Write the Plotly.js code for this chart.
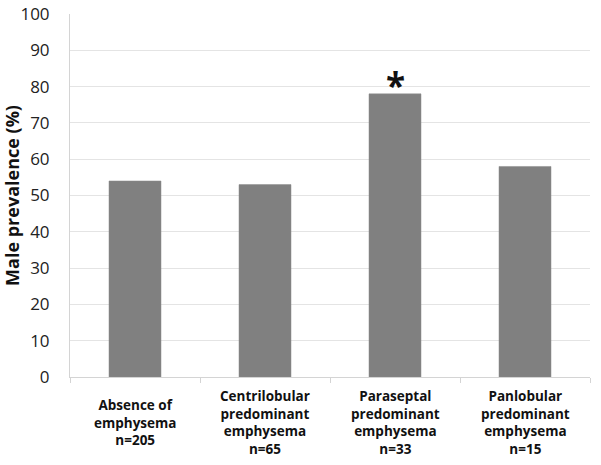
<!DOCTYPE html>
<html>
<head>
<meta charset="utf-8">
<script src="https://cdn.plot.ly/plotly-3.0.1.min.js"></script>
<style>html,body{margin:0;padding:0;background:#fff;}#chart{width:601px;height:465px;}</style>
</head>
<body>
<div id="chart"></div>
<script>
var categories = [
  "Absence of<br>emphysema<br>n=205",
  "Centrilobular<br>predominant<br>emphysema<br>n=65",
  "Paraseptal<br>predominant<br>emphysema<br>n=33",
  "Panlobular<br>predominant<br>emphysema<br>n=15"
];
var malePrevalence = [54, 53, 78, 58];
var significant = [false, false, true, false];

var annotations = [];
for (var i = 0; i < categories.length; i++) {
  annotations.push({
    x: categories[i], y: -0.124, xref: "x", yref: "paper",
    text: "<b>" + categories[i] + "</b>", showarrow: false,
    xanchor: "center", yanchor: "middle", align: "center",
    font: {family: "Open Sans, sans-serif", size: 13.5, color: "#111"}
  });
  if (significant[i]) {
    annotations.push({
      x: categories[i], y: malePrevalence[i], xref: "x", yref: "y",
      text: "<b>*</b>", showarrow: false, yanchor: "bottom",
      yshift: -16,
      font: {family: "Open Sans, sans-serif", size: 35, color: "#111"}
    });
  }
}

var trace = {
  type: "bar",
  x: categories,
  y: malePrevalence,
  marker: {color: "#808080", line: {color: "#8a8a8a", width: 0.5}},
  hoverinfo: "skip"
};

var layout = {
  width: 601, height: 465,
  margin: {l: 70, r: 11, t: 14, b: 88},
  paper_bgcolor: "#fff", plot_bgcolor: "#fff",
  showlegend: false,
  bargap: 0.6,
  font: {family: "Open Sans, sans-serif", color: "#222"},
  xaxis: {
    type: "category",
    showline: true, linecolor: "#d4d4d4", linewidth: 1,
    ticks: "outside", tickson: "boundaries", ticklen: 5, tickcolor: "#d4d4d4",
    showgrid: false, zeroline: false,
    showticklabels: false,
    automargin: false
  },
  yaxis: {
    range: [0, 100], dtick: 10, tick0: 0,
    showline: true, linecolor: "#d4d4d4", linewidth: 1,
    showgrid: true, gridcolor: "#e4e4e4", gridwidth: 1,
    zeroline: false,
    ticks: "", ticklabelstandoff: 16,
    tickfont: {family: "Open Sans, sans-serif", size: 17, color: "#222"},
    title: {text: "<b>Male prevalence (%)</b>", font: {family: "Open Sans, sans-serif", size: 18, color: "#111"}, standoff: 6},
    automargin: false
  },
  annotations: annotations
};

Plotly.newPlot("chart", [trace], layout, {displayModeBar: false, staticPlot: true});
</script>
</body>
</html>
